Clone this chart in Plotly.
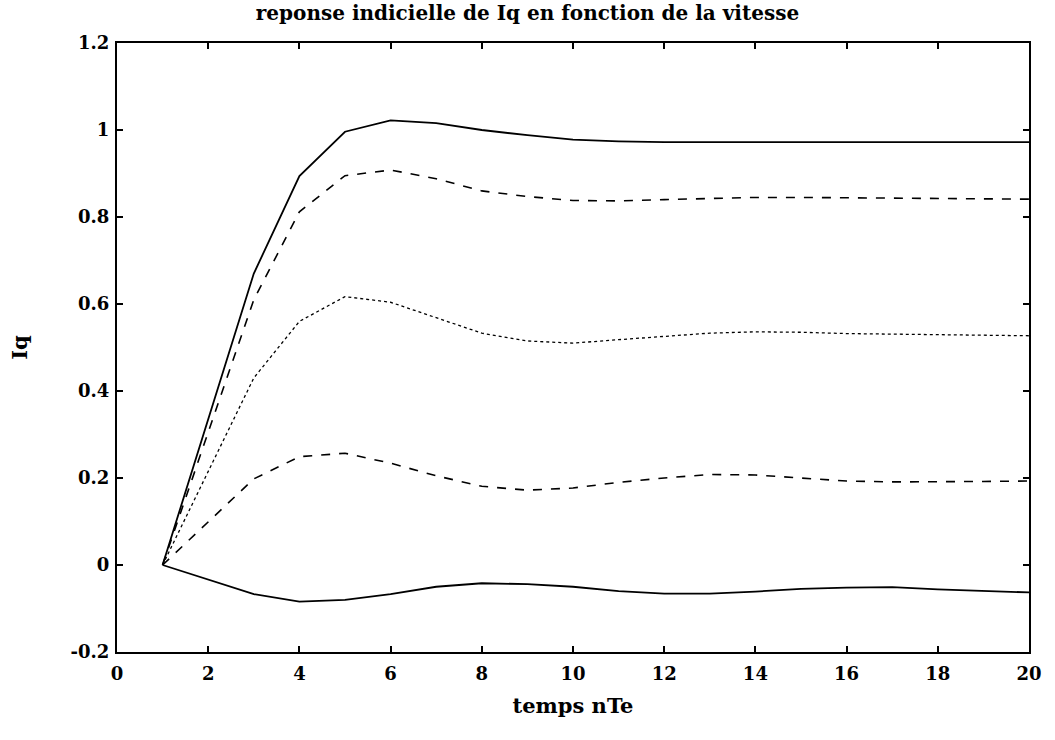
import plotly.graph_objects as go

x = list(range(1, 21))

# series (Iq step responses for several speeds)
s1 = [0, 0.335, 0.67, 0.894, 0.996, 1.022, 1.016, 1.0, 0.988, 0.978, 0.974, 0.972, 0.972, 0.972, 0.972, 0.972, 0.972, 0.972, 0.972, 0.972]
s2 = [0, 0.305, 0.61, 0.812, 0.895, 0.908, 0.888, 0.86, 0.847, 0.838, 0.837, 0.84, 0.843, 0.845, 0.845, 0.844, 0.843, 0.842, 0.841, 0.841]
s3 = [0, 0.215, 0.43, 0.56, 0.617, 0.604, 0.568, 0.533, 0.515, 0.51, 0.518, 0.526, 0.533, 0.536, 0.535, 0.532, 0.531, 0.529, 0.528, 0.527]
s4 = [0, 0.1, 0.198, 0.249, 0.257, 0.234, 0.205, 0.181, 0.172, 0.177, 0.19, 0.2, 0.208, 0.207, 0.2, 0.193, 0.191, 0.191, 0.192, 0.193]
s5 = [0, -0.034, -0.067, -0.084, -0.08, -0.067, -0.05, -0.042, -0.044, -0.05, -0.06, -0.066, -0.066, -0.061, -0.055, -0.052, -0.051, -0.056, -0.06, -0.063]

series = [s1, s2, s3, s4, s5]
dashes = ["solid", "dash", "dot", "dash", "solid"]
widths = [1.8, 1.6, 1.3, 1.6, 1.8]

xticks = [0, 2, 4, 6, 8, 10, 12, 14, 16, 18, 20]
yticks = [-0.2, 0, 0.2, 0.4, 0.6, 0.8, 1, 1.2]
ytext = ["-0.2", "0", "0.2", "0.4", "0.6", "0.8", "1", "1.2"]

fig = go.Figure()
for s, d, w in zip(series, dashes, widths):
    fig.add_trace(go.Scatter(x=x, y=s, mode="lines",
                             line=dict(color="black", width=w, dash=d),
                             showlegend=False))

fam = "DejaVu Serif"
tickfont = dict(family=fam, size=18, color="black")
labfont = dict(family=fam, size=21, color="black")

fig.update_layout(
    width=1055, height=740,
    margin=dict(l=117, r=26, t=43, b=88),
    paper_bgcolor="white", plot_bgcolor="white",
    font=dict(family=fam, size=18, color="black"),
    title=dict(text="<b>reponse indicielle de Iq en fonction de la vitesse</b>",
               x=0.5, xanchor="center", y=1 - 13 / 740, yanchor="middle",
               font=dict(family=fam, size=20, color="black")),
)
fig.update_xaxes(
    range=[0, 20], tickvals=xticks, ticktext=[f"<b>{t}</b>" for t in xticks],
    tickfont=tickfont, ticklabelstandoff=4,
    ticks="inside", ticklen=6, tickwidth=1.5, tickcolor="black",
    showline=True, linecolor="black", linewidth=2, mirror="ticks",
    showgrid=False, zeroline=False,
    title=dict(text="<b>temps nTe</b>", standoff=16, font=labfont),
)
fig.update_yaxes(
    range=[-0.2, 1.2], tickvals=yticks, ticktext=[f"<b>{t}</b>" for t in ytext],
    tickfont=tickfont, ticklabelstandoff=2,
    ticks="inside", ticklen=6, tickwidth=1.5, tickcolor="black",
    showline=True, linecolor="black", linewidth=2, mirror="ticks",
    showgrid=False, zeroline=False,
    title=dict(text="<b>Iq</b>", standoff=37, font=labfont),
)

fig.write_html("out.html", config={"displayModeBar": False},
               post_script="document.body.style.margin='0';")
